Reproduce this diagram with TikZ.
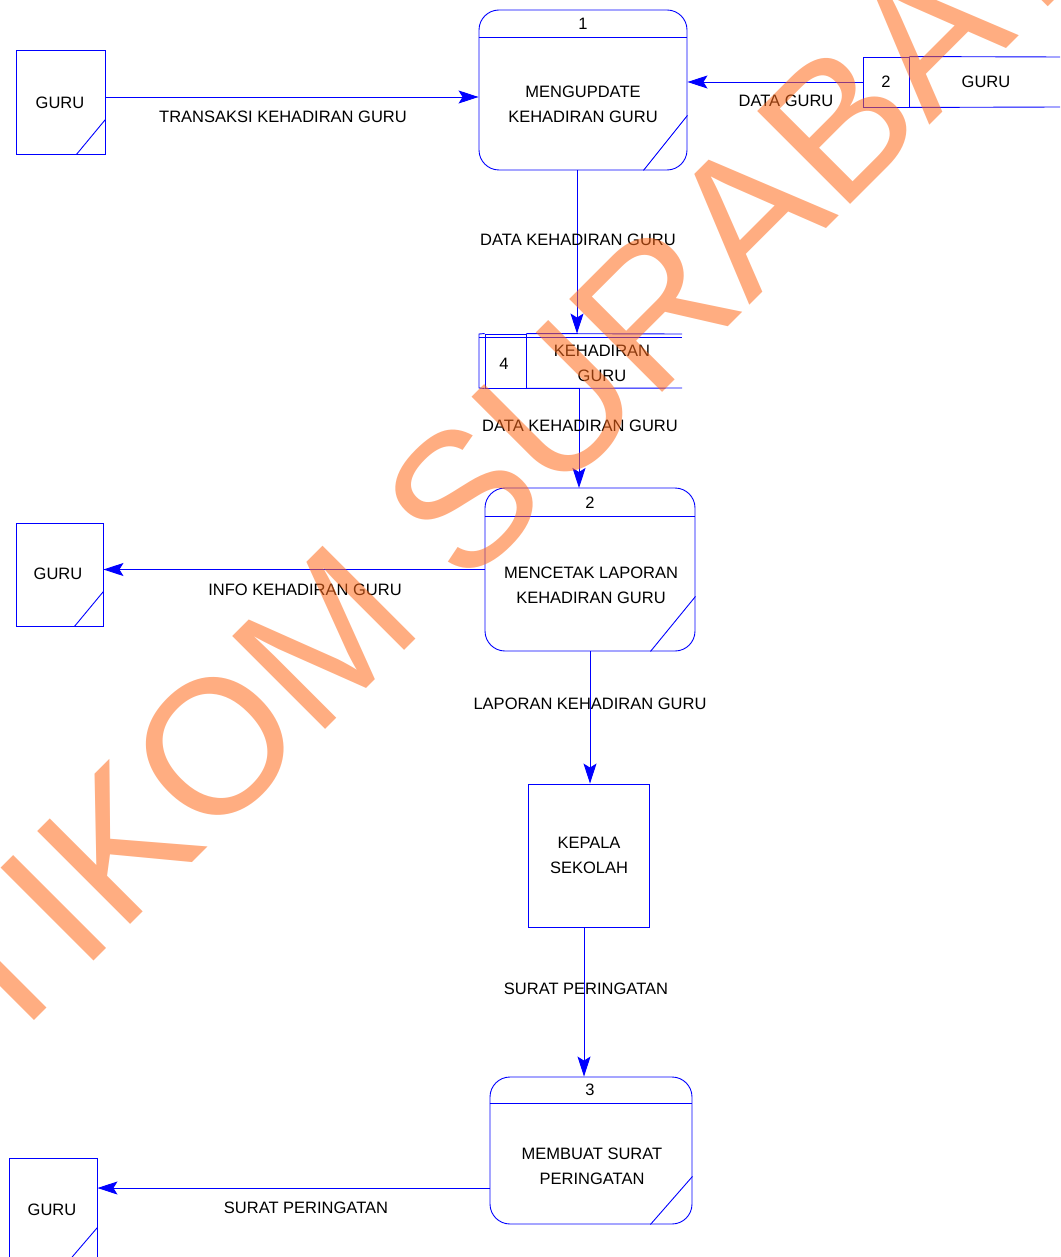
\documentclass[tikz,border=0pt]{standalone}
\usepackage{fontspec}
\setmainfont{Liberation Sans}
\usepackage{tikz}
\usetikzlibrary{arrows.meta}
\definecolor{dfdblue}{rgb}{0,0,1}
\definecolor{stampcolor}{RGB}{255,105,25}
\tikzset{dfdline/.style={draw=dfdblue,line width=0.9pt}}
\tikzset{procnode/.style={dfdline,rounded corners=20pt,inner sep=0pt}}
\tikzset{entnode/.style={dfdline,inner sep=0pt}}
\tikzset{dfdtext/.style={inner sep=0pt,align=center,font=\fontsize{16.5}{25}\selectfont}}
\tikzset{stampnode/.style={inner sep=0pt,text=stampcolor,opacity=0.55,font=\fontsize{191}{191}\selectfont}}

\begin{document}
\begin{tikzpicture}[x=1pt,y=-1pt,>={Stealth[length=20pt,width=13pt,inset=4pt]}]
		\useasboundingbox (0,0) rectangle (1060,1257);
		\clip (0,0) rectangle (1060,1257);
		%
		\node[entnode,minimum width=89pt,minimum height=104pt] (g1) at (60.5,102) {};
		\node[entnode,minimum width=87pt,minimum height=103pt] (g2) at (59.5,574.5) {};
		\node[entnode,minimum width=88pt,minimum height=104pt] (g3) at (53,1210) {};
		\node[entnode,minimum width=121pt,minimum height=143pt] (ks) at (588.5,855.5) {};
		\node[procnode,minimum width=208pt,minimum height=160pt] (p1) at (583,90) {};
		\node[procnode,minimum width=210pt,minimum height=163pt] (p2) at (590,569.5) {};
		\node[procnode,minimum width=202pt,minimum height=147pt] (p3) at (591,1150.5) {};
		\node[entnode,minimum width=46pt,minimum height=50pt] (d2) at (886,82) {};
		\node[entnode,minimum width=41pt,minimum height=54pt] (d4) at (505.5,361) {};
		%
		\draw[dfdline] ([xshift=-29pt]g1.south east) -- ([yshift=35pt]g1.south east);
		\draw[dfdline] ([xshift=-29pt]g2.south east) -- ([yshift=35pt]g2.south east);
		\draw[dfdline] ([xshift=-30pt]g3.south east) -- ([yshift=35pt]g3.south east);
		\draw[dfdline] ([yshift=-28pt]p1.north west) -- ([yshift=-28pt]p1.north east);
		\draw[dfdline] ([yshift=-29pt]p2.north west) -- ([yshift=-29pt]p2.north east);
		\draw[dfdline] ([yshift=-27pt]p3.north west) -- ([yshift=-27pt]p3.north east);
		\draw[dfdline] ([xshift=-44pt]p1.south east) -- ([yshift=55pt]p1.south east);
		\draw[dfdline] ([xshift=-45pt]p2.south east) -- ([yshift=55pt]p2.south east);
		\draw[dfdline] ([xshift=-42pt]p3.south east) -- ([yshift=48pt]p3.south east);
		\draw[dfdline] (d2.north east) -- (1062,57);
		\draw[dfdline] (d2.south east) -- (1062,107);
		\draw[dfdline] (d4.north west) -- (479,334) -- (479,388) -- (d4.south west);
		\draw[dfdline] (479,337) -- (682,337);
		\draw[dfdline] (d4.north east) -- (682,334);
		\draw[dfdline] (d4.south east) -- (682,388);
		%
		\node[dfdtext] (g1t) at (60,103) {GURU};
		\node[dfdtext] (g2t) at (58,574) {GURU};
		\node[dfdtext] (g3t) at (52,1210) {GURU};
		\node[dfdtext] (kst) at (589,855.5) {KEPALA\\SEKOLAH};
		\node[dfdtext] (p1n) at (583,24) {1};
		\node[dfdtext] (p1t) at (583,104.5) {MENGUPDATE\\KEHADIRAN GURU};
		\node[dfdtext] (p2n) at (590,503) {2};
		\node[dfdtext] (p2t) at (591,585) {MENCETAK LAPORAN\\KEHADIRAN GURU};
		\node[dfdtext] (p3n) at (590,1090) {3};
		\node[dfdtext] (p3t) at (592,1166.5) {MEMBUAT SURAT\\PERINGATAN};
		\node[dfdtext] (d2n) at (886,82) {2};
		\node[dfdtext] (d2t) at (986,82) {GURU};
		\node[dfdtext] (d4n) at (504,364) {4};
		\node[dfdtext] (d4t) at (602,363) {KEHADIRAN\\GURU};
		%
		\draw [->,dfdline] ([yshift=5pt]g1.east) -- ([yshift=5pt]g1.east -| p1.west);
		\draw [->,dfdline] (d2.west) -- (d2.west -| p1.east);
		\draw [->,dfdline] ([xshift=-6pt]p1.south) -- ([xshift=-6pt]p1.south |- d4.north);
		\draw [->,dfdline] (579,388) -- (579,488);
		\draw [->,dfdline] (p2.west) -- (p2.west -| g2.east);
		\draw [->,dfdline] (p2.south) -- (p2.south |- ks.north);
		\draw [->,dfdline] ([xshift=-4.5pt]ks.south) -- ([xshift=-4.5pt]ks.south |- p3.north);
		\draw [->,dfdline] ([yshift=-37.5pt]p3.west) -- ([yshift=-37.5pt]p3.west -| g3.east);
		%
		\node[dfdtext] (f1) at (283,117) {TRANSAKSI KEHADIRAN GURU};
		\node[dfdtext] (f2) at (786,101) {DATA GURU};
		\node[dfdtext] (f3) at (578,240) {DATA KEHADIRAN GURU};
		\node[dfdtext] (f4) at (580,426) {DATA KEHADIRAN GURU};
		\node[dfdtext] (f5) at (305,590) {INFO KEHADIRAN GURU};
		\node[dfdtext] (f6) at (590,704) {LAPORAN KEHADIRAN GURU};
		\node[dfdtext] (f7) at (586,989) {SURAT PERINGATAN};
		\node[dfdtext] (f8) at (306,1208) {SURAT PERINGATAN};
		%
		\node[stampnode,rotate=45,anchor=base] (stamp) at (544.5,510.5) {STIKOM SURABAYA};
	\end{tikzpicture}
\end{document}
